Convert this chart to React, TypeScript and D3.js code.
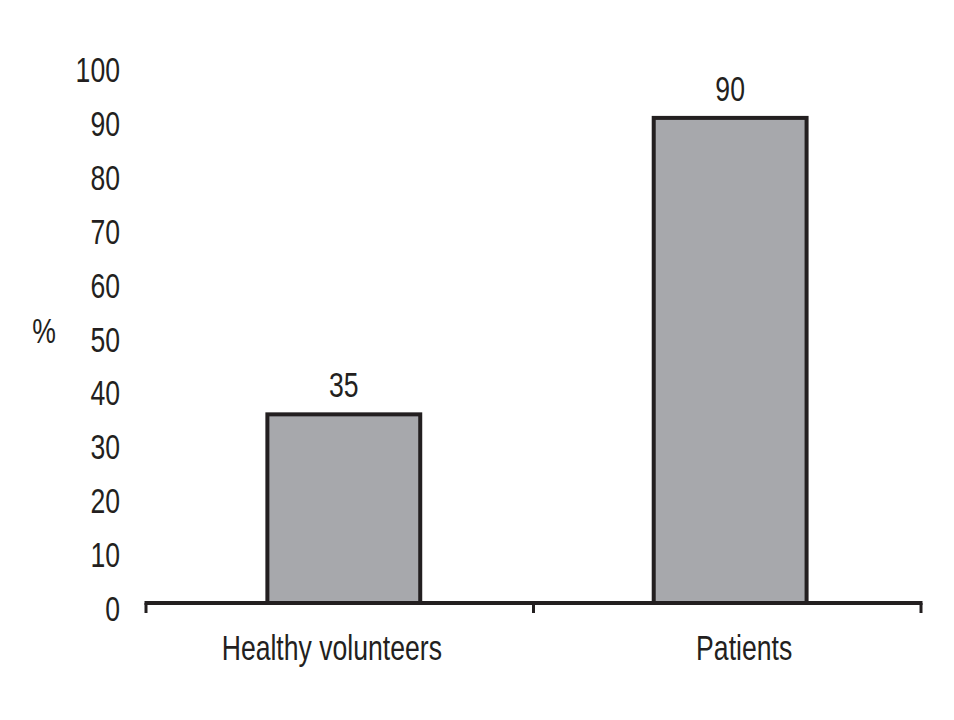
import { useEffect, useRef } from "react"
import * as d3 from "d3"

const categories = ["Healthy volunteers", "Patients"]
const values = [35, 90]
const yTicks = [0, 10, 20, 30, 40, 50, 60, 70, 80, 90, 100]
const yLabel = "%"

// condensed look: Arial-metric font squeezed horizontally
const FONT = "'Liberation Sans', Arial, sans-serif"
const SQUEEZE = 0.76
const INK = "#231f20"
// category labels sit a little off the bar centres in the original
const LABEL_SHIFT = [-12, 14]

export default function App() {
  const ref = useRef<SVGSVGElement>(null)
  useEffect(() => {
    if (!ref.current) return
    const svg = d3.select(ref.current)
    svg.selectAll("*").remove()
    const m = { left: 146, right: 921, top: 64, bottom: 603 }

    const x = d3.scaleBand().domain(categories).range([m.left, m.right])
      .paddingInner(0.594).paddingOuter(0.3).align(0.515)
    const y = d3.scaleLinear().domain([0, 100]).range([m.bottom, m.top])

    const label = (sel: any) => sel.style("font-family", FONT).style("font-size", "35px").style("fill", INK)

    // y tick labels (no axis line)
    svg.selectAll(".ytl").data(yTicks).join("text").attr("class", "ytl")
      .attr("transform", d => `translate(120,${y(d) + 18}) scale(${SQUEEZE},1)`)
      .attr("text-anchor", "end").call(label).text(d => String(d))

    svg.append("text").attr("transform", `translate(44,343) scale(${SQUEEZE},1)`)
      .attr("text-anchor", "middle").call(label).text(yLabel)

    // bars
    svg.selectAll("rect.bar").data(values).join("rect").attr("class", "bar")
      .attr("x", (_, i) => x(categories[i])! + 2).attr("width", x.bandwidth() - 4)
      .attr("y", d => y(d)).attr("height", d => y(0) - y(d))
      .attr("fill", "#a7a8ac").attr("stroke", INK).attr("stroke-width", 4)

    svg.selectAll(".vl").data(values).join("text").attr("class", "vl")
      .attr("transform", (d, i) => `translate(${x(categories[i])! + x.bandwidth() / 2},${y(d) - 17}) scale(${SQUEEZE},1)`)
      .attr("text-anchor", "middle").call(label).text(d => String(d))

    // x axis
    svg.append("line").attr("x1", m.left - 1.5).attr("x2", m.right + 1.5).attr("y1", y(0)).attr("y2", y(0))
      .attr("stroke", INK).attr("stroke-width", 4)
    const bounds = [m.left, (m.left + m.right) / 2, m.right]
    svg.selectAll(".xt").data(bounds).join("line").attr("class", "xt")
      .attr("x1", d => d).attr("x2", d => d).attr("y1", y(0)).attr("y2", y(0) + 10)
      .attr("stroke", INK).attr("stroke-width", 3)

    svg.selectAll(".xl").data(categories).join("text").attr("class", "xl")
      .attr("transform", (d, i) => `translate(${x(d)! + x.bandwidth() / 2 + LABEL_SHIFT[i]},660) scale(${SQUEEZE},1)`)
      .attr("text-anchor", "middle").call(label).text(d => d)
  }, [])
  return (
    <div style={{ position: "absolute", left: 0, top: 0, width: 954, height: 720, background: "#fff" }}>
      <svg ref={ref} width={954} height={720} style={{ display: "block" }} />
    </div>
  )
}
